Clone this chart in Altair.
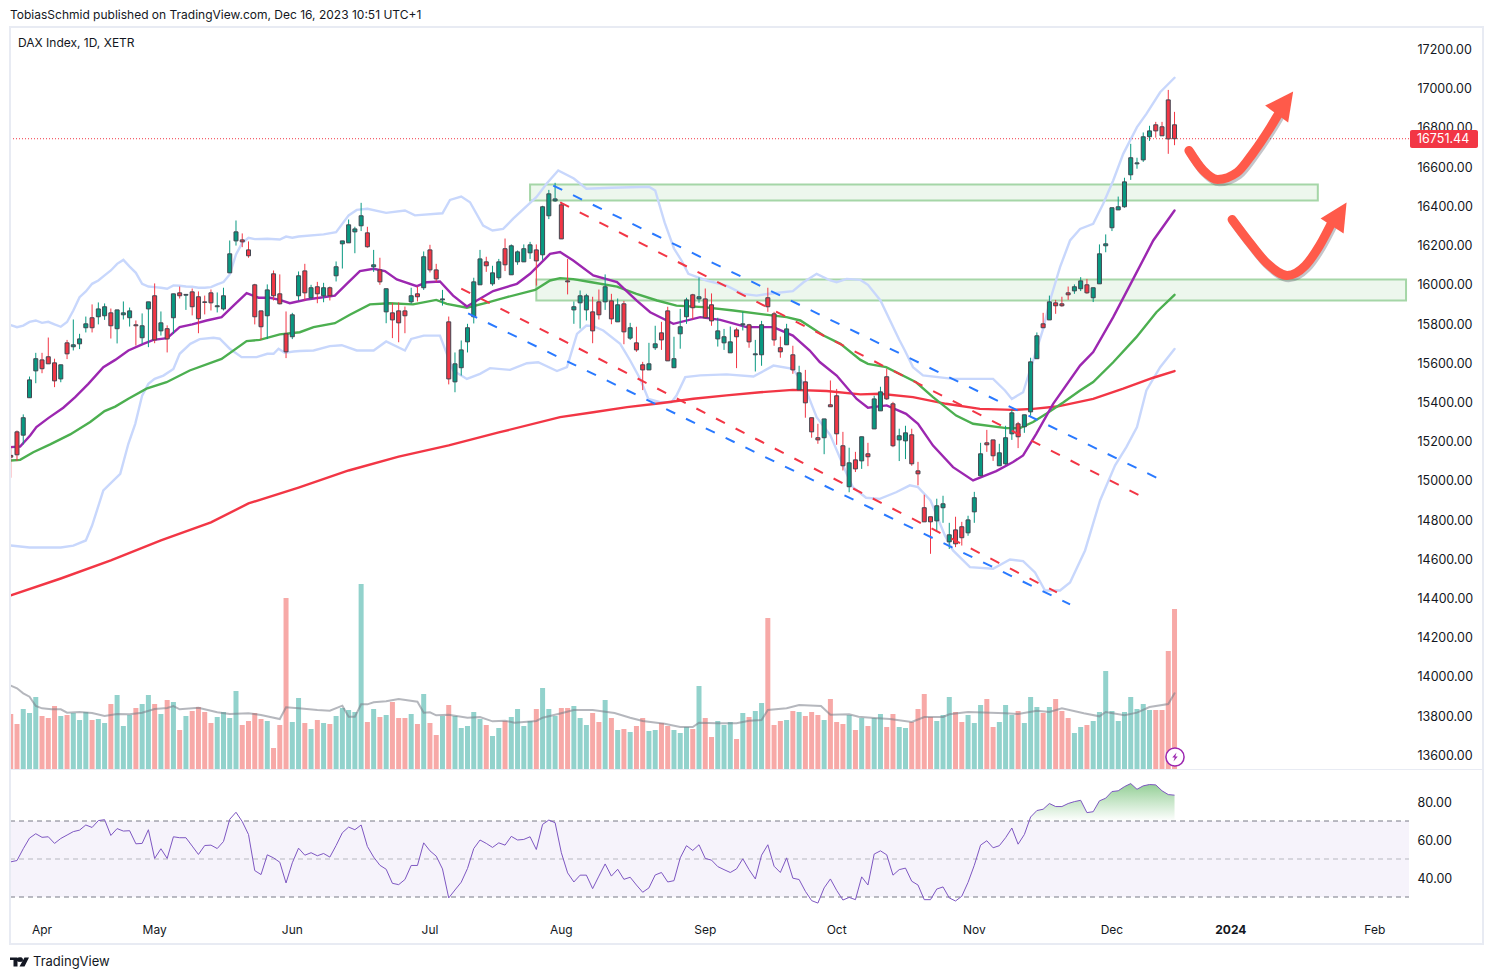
import altair as alt
import pandas as pd

# ---------- candles ----------
opens = [15130,15250,15233,15424,15561,15617,15633,15602,15520,15704,
15684,15699,15781,15832,15837,15842,15857,15776,15847,15832,
15796,15730,15877,15944,15765,15776,15832,15959,15947,15964,
15939,15913,15959,15888,15877,16061,16224,16229,16178,16000,
15867,15842,16056,15954,15750,15735,15944,16071,15934,15990,
15944,15985,16046,16209,16214,16270,16301,16265,16092,16076,
15862,15857,15867,15867,15913,15954,15985,16178,16076,15923,
15811,15505,15577,15709,15837,16000,16117,16005,16036,16184,
16051,16117,16117,16163,16178,16153,16352,16428,16408,16020,
15872,15908,15872,15862,15913,15913,15918,15811,15903,15728,
15704,15592,15566,15679,15755,15867,15577,15750,15837,15949,
15928,15928,15898,15724,15704,15653,15770,15796,15796,15643,
15643,15934,15852,15679,15694,15643,15464,15505,15322,15220,
15220,15388,15434,15179,14970,15107,15102,15138,15265,15357,
15531,15393,15209,15204,15235,15051,14863,14817,14796,14863,
14689,14750,14766,14735,14842,15026,15194,15209,15077,15087,
15240,15291,15276,15352,15623,15801,15821,15908,15903,15959,
15969,15980,16000,15934,16005,16199,16291,16382,16398,16561,
16617,16637,16755,16816,16806,16943,16816]
highs = [15179,15257,15339,15532,15653,15653,15731,15623,15592,15719,
15823,15750,15838,15900,15910,15905,15879,15872,15915,15884,
15818,15854,15913,16007,15864,15793,15954,15991,15951,15981,
15966,15945,15976,15961,15985,16226,16328,16262,16221,16005,
15867,16002,16073,16053,15864,15857,16068,16107,16000,16015,
16010,15991,16119,16224,16333,16296,16418,16296,16178,16138,
15980,15908,15910,15889,15985,15991,16170,16204,16107,15974,
15838,15655,15716,15801,16036,16178,16143,16097,16132,16236,
16206,16175,16206,16219,16206,16403,16484,16520,16423,16132,
15915,15971,15954,15939,15976,16053,15954,15930,15918,15806,
15786,15607,15704,15791,15811,15888,15735,15877,15934,15954,
16037,15981,15956,15832,15775,15787,15781,15862,15801,15719,
15816,15985,15862,15736,15801,15689,15587,15566,15322,15291,
15316,15512,15469,15250,15169,15148,15225,15194,15434,15480,
15572,15403,15266,15281,15266,15097,14929,14817,14909,14924,
14786,14817,14791,14822,14944,15194,15260,15209,15189,15281,
15362,15301,15337,15628,15757,15857,15945,15923,15939,15991,
16002,16039,16030,15985,16206,16257,16393,16450,16546,16719,
16648,16777,16811,16831,16831,16994,16882]
lows = [15016,15101,15186,15424,15498,15549,15597,15478,15503,15621,
15665,15672,15757,15757,15798,15821,15726,15701,15823,15787,
15690,15699,15682,15702,15741,15655,15750,15930,15872,15844,
15753,15849,15869,15859,15869,16061,16200,16192,16138,15798,
15719,15723,15920,15900,15626,15723,15920,15920,15923,15906,
15911,15920,16017,16083,16214,16161,16274,16189,16066,16000,
15804,15728,15707,15753,15903,15915,15974,16063,16015,15894,
15492,15452,15537,15655,15803,16000,16066,15995,16025,16070,
16051,16102,16117,16132,15996,16127,16335,16423,16234,15951,
15801,15777,15818,15702,15823,15872,15799,15811,15697,15719,
15658,15463,15566,15668,15668,15612,15577,15674,15801,15825,
15908,15832,15791,15685,15668,15653,15575,15767,15679,15558,
15587,15862,15689,15628,15694,15546,15464,15322,15220,15189,
15136,15378,15184,15053,14942,15045,15061,15075,15265,15357,
15413,15172,15101,15111,15077,14977,14791,14628,14740,14786,
14653,14662,14670,14720,14786,15026,15148,15102,15077,15082,
15209,15167,15245,15332,15623,15781,15821,15852,15888,15923,
15954,15968,15954,15912,16005,16166,16274,16382,16393,16535,
16592,16627,16734,16750,16760,16668,16712]
closes = [15121,15133,15322,15515,15623,15572,15597,15510,15592,15648,
15694,15724,15801,15781,15877,15888,15791,15872,15857,15867,
15791,15791,15913,15719,15806,15724,15954,15944,15951,15888,
15827,15910,15908,15893,15944,16158,16270,16219,16148,15837,
15786,15974,15944,15903,15658,15847,16046,15959,15985,15954,
15985,15944,16092,16224,16306,16285,16352,16194,16102,16015,
15980,15821,15806,15842,15944,15939,16143,16076,16030,15928,
15520,15597,15668,15781,16015,16132,16097,16061,16117,16102,
16199,16168,16184,16204,16122,16398,16464,16438,16234,16015,
15888,15944,15944,15765,15847,15990,15826,15898,15760,15781,
15668,15566,15597,15699,15719,15612,15623,15786,15923,15883,
15939,15832,15816,15765,15735,15709,15735,15801,15709,15648,
15796,15888,15719,15658,15775,15566,15551,15398,15250,15209,
15316,15378,15240,15077,15092,15061,15225,15123,15418,15454,
15418,15179,15230,15245,15087,15036,14791,14791,14873,14883,
14725,14679,14710,14801,14914,15138,15184,15128,15143,15220,
15347,15225,15337,15607,15740,15781,15913,15893,15893,15949,
15990,16020,15959,15985,16158,16209,16393,16398,16525,16648,
16622,16755,16785,16785,16760,16744,16745]
volumes = [165,135,180,168,216,159,153,189,159,162,168,147,171,147,150,138,195,222,129,162,
183,195,222,195,165,207,201,117,159,174,186,171,138,156,171,153,234,132,144,168,
150,144,63,132,513,141,213,138,120,147,138,135,159,183,177,171,555,141,180,156,
162,201,153,153,165,135,225,138,102,159,192,159,123,129,171,150,132,99,123,144,
156,180,129,144,180,243,180,159,183,183,189,153,132,168,141,207,153,117,120,111,
129,153,114,117,138,129,117,108,126,120,249,153,96,144,132,141,90,168,156,174,
198,453,132,144,147,174,171,159,171,162,147,210,141,135,162,117,153,129,153,165,
126,165,126,123,141,180,225,156,144,162,216,171,141,162,138,192,210,126,141,192,
162,174,138,216,186,168,186,210,174,153,108,126,132,144,171,294,174,144,171,216,
180,195,177,177,177,354,480]
rsi = [48.5,49.2,55.4,61.0,63.3,61.4,61.7,58.2,60.8,62.6,
64.4,65.2,67.9,66.6,70.2,70.7,62.4,66.0,64.7,64.9,
58.0,58.2,65.4,50.3,55.4,50.3,61.7,61.2,61.2,56.8,
52.4,57.1,57.3,55.5,59.2,70.9,74.6,69.7,62.9,43.9,
41.8,52.2,50.6,48.3,37.4,48.0,55.7,52.0,53.3,51.7,
52.9,51.0,57.1,63.8,66.8,65.4,67.9,56.6,51.0,46.7,
44.6,37.2,36.5,39.2,46.6,46.6,58.5,54.3,51.5,44.8,
29.5,33.7,37.8,45.0,55.5,60.0,58.2,56.1,58.5,57.3,
61.9,60.0,60.3,61.7,55.0,68.2,70.5,69.1,53.3,42.7,
37.9,41.5,41.5,34.4,41.0,
47.4,41.0,44.6,39.3,40.4,36.3,32.5,34.8,41.6,42.9,37.9,38.6,50.6,57.0,54.5,57.5,
50.3,49.4,46.0,44.4,42.9,44.8,50.1,44.4,39.5,52.0,57.5,46.2,42.9,50.6,39.9,39.2,
33.0,28.1,26.8,34.8,39.5,33.5,28.4,29.8,28.6,40.6,36.3,52.6,54.3,52.2,41.5,44.4,
45.2,38.3,36.3,28.6,28.6,34.2,35.3,29.5,27.9,30.4,37.7,46.7,57.3,59.6,55.9,57.0,
61.2,66.3,57.8,62.9,72.1,75.5,76.2,79.2,77.6,77.6,79.2,80.2,80.9,74.4,74.9,80.6,
82.0,85.5,85.9,88.1,89.7,86.7,88.5,89.2,89.0,85.9,83.9,83.6]

# ---------- indicator lines (bar position, value) ----------
upper_i = list(range(40)) + [41,43,44,45,46,50,52,54,55.3,57,60,63,64.6,69,70.2,72,73.4,75.5,77,78.7,80.3,84,85.7,87.5,90,92,96,102,103,104.5,106,107.2,108.3,111.2,114.4,117,119.2,121.9,125,126.7,128.8,131,132,133.6,135.8,137,139,142,142.9,144.2,145.8,150.6,157,158.9,160,161.8,162.9,164,165,166.1,167.7,169.3,170.9,173,174.6,176.2,177.8,180,181.5,183.7,186]
upper_v = [15794,15784,15792,15811,15818,15806,15811,15798,15786,15810,15869,15937,15966,16005,16022,16048,16073,16107,16127,16093,16061,16005,15991,15988,15985,15980,15997,15995,15991,15990,15985,15985,15988,16002,16014,16053,16155,16214,16240,16233,
16235,16231,16246,16240,16246,16257,16268,16354,16382,16388,16367,16379,16354,16365,16433,16450,16421,16302,16277,16285,16337,16447,16518,16583,16542,16490,16495,16500,16481,16318,16185,16124,16056,16022,15996,15954,15945,15957,15968,16013,16056,16022,16013,16030,16025,16000,15920,15720,15665,15580,15538,15520,15520,15461,15418,15452,15563,15673,15775,15920,16090,16226,16285,16311,16413,16532,16668,16804,16872,16982,17056]
lower_i = [0,3,8,10,12,13,14.8,17.5,18.8,19.9,21,22,23,24.4,26,27,28.7,30.2,32.4,33.4,35,36.9,39.3,41,42,42.8,43.8,45.2,46.2,48.4,51,52.9,55.3,58,60,63,64,66,68.6,70.7,72.9,75,76.6,79.8,82.5,84.3,87.3,88.9,90.5,92,93.1,94.7,97.4,99,100.6,101.9,103.8,105.6,106.4,107.8,110.2,114.4,118.7,121.9,125,126.7,128.8,131,133.6,134.6,136.7,138.9,141.5,143.7,145,147,149.3,150.6,153.3,157,159.7,161.8,163.7,165.3,167.7,169.3,171.7,174.1,176.5,178.3,180,181.5,183.7,186]
lower_v = [14670,14660,14660,14670,14696,14772,14951,15036,15189,15291,15435,15495,15520,15537,15571,15648,15699,15723,15730,15725,15674,15631,15631,15648,15648,15674,15653,15660,15662,15665,15687,15692,15665,15665,15711,15665,15724,15741,15741,15563,15520,15546,15575,15566,15600,15605,15560,15580,15750,15792,15789,15767,15699,15614,15520,15418,15401,15401,15435,15529,15538,15543,15532,15588,15571,15495,15325,15232,15036,14968,14914,14908,14942,14977,14968,14900,14722,14645,14560,14552,14599,14591,14533,14441,14441,14482,14645,14900,15079,15172,15274,15461,15580,15673]
purple_i = [0,1.5,3.1,4.1,6,8.4,10.3,12.4,14.8,16.7,18.8,21.2,22.8,25,27,29,31.3,33.7,35.6,37.7,39.6,41.4,43,44.6,47.3,51.8,53.7,55.8,58,59.8,61.7,64.9,66.5,68.6,70.7,72.9,74.5,77.1,80.9,83,86.2,87.8,89.9,93.1,96.9,100,102.2,105.9,110.2,113.4,117.6,121.9,125,127.7,129.3,132,135.2,137,140,143.1,145,147.4,150.6,153.8,157.5,160.2,161.8,163.9,166.6,170.9,173,176.2,179.4,182.6,186]
purple_v = [15172,15175,15231,15274,15320,15373,15427,15495,15580,15617,15665,15699,15719,15728,15784,15798,15818,15835,15894,15957,15934,15934,15923,15906,15925,15945,16005,16070,16082,16070,16027,15993,16013,16017,15945,15889,15920,15968,16005,16056,16158,16167,16124,16048,16014,15920,15860,15801,15835,15821,15784,15784,15741,15665,15606,15537,15418,15373,15385,15342,15291,15180,15070,15002,15050,15096,15130,15240,15393,15588,15657,15835,16030,16226,16379]
green_i = [0,1.5,3.6,6.3,9.5,12.7,15,16.7,18.8,21.7,24.9,28.6,33.7,37.7,39.8,43,46.2,48.4,51.8,54.2,57.4,60.6,64.3,68,69.7,72.9,76,79.3,83.8,86.2,87.8,89.9,92.6,96.9,100,103.3,106.4,110.7,115.5,120.3,124,126.2,129.9,132.6,135.8,137,139.9,144.7,147.4,151.1,153.8,159.1,161.3,163.4,165.5,168.2,170.9,173,176.2,179.9,183.1,186]
green_v = [15104,15107,15146,15186,15237,15300,15356,15379,15419,15470,15503,15563,15622,15713,15719,15747,15758,15784,15804,15847,15900,15906,15900,15923,15903,15883,15908,15937,15974,16022,16034,16029,16014,15991,15954,15920,15894,15886,15869,15849,15835,15818,15741,15699,15617,15597,15580,15503,15427,15333,15291,15269,15269,15300,15342,15400,15461,15504,15605,15733,15860,15949]
red_i = [0,8,16,24,32,38,46,54,62,70,78,87.8,93.1,98.5,103.8,109.1,114.4,119.8,125,130.4,135.8,138.9,144.2,149.5,154.9,160.2,163.4,167.2,173,177.8,182.6,186]
red_v = [14416,14502,14594,14696,14788,14885,14966,15053,15124,15181,15247,15325,15350,15376,15396,15419,15436,15452,15464,15458,15441,15444,15427,15393,15367,15362,15367,15379,15418,15470,15526,15560]
volma_i = [0,1,2,3,4,5,6.5,8,9,11,13,15,17,19,21,23,25,26,27,30,33,35,38,40,43,44,46,49,51,53,54,55,56,57,58,60,62,65,66,67,68,70,73,75,77,79,80.5,84,85,87.5,90,93,96.5,99,101,104.5,107,109,110,113,116,118,120,121,124,126,129.5,131,134,135.5,138,140.5,144,146,149,150,153,159,161,164,166,168,171.5,174,175,178,180,182,185,186]
volma_v = [250,242,227,217,189,182,179,179,169,171,168,159,165,164,169,180,183,189,179,184,170,165,167,162,150,185,182,177,175,190,157,157,194,194,200,203,210,202,169,170,161,163,154,156,143,145,139,144,154,165,177,177,168,154,144,136,126,126,139,137,137,145,147,177,182,192,189,163,164,157,153,150,141,156,156,164,171,167,165,175,171,182,167,158,171,161,169,186,195,227]
ob_i = [162.6,163,164,165,166,167,168,169,170,171,172,173,174,175,176,177,178,179,180,181,182,183,184,185,186]
ob_v = [70,72.1,75.5,76.2,79.2,77.6,77.6,79.2,80.2,80.9,74.4,74.9,80.6,82.0,85.5,85.9,88.1,89.7,86.7,88.5,89.2,89.0,85.9,83.9,83.6]

# ---------- drawings ----------
trend_lines = [("blue",[86.7,183.4],[16506,15012]),("red",[87.8,181.4],[16420,14910]),
               ("blue",[73.1,169.3],[15854,14370]),("red",[72,167.2],[15981,14431])]
zones = [(83,208.9,16430,16512),(84,223,15920,16027)]
arrow1_i = [188.3,190.6,192.9,196,198.5,201.3,203.2]
arrow1_v = [16685,16583,16537,16573,16670,16802,16904]
arrow2_i = [195.2,198.1,200.8,204,206.9,209.2,211.3]
arrow2_v = [16333,16211,16109,16048,16098,16201,16328]
heads = [(203.2,16909,"M1.1,-1.5 L-1.7,-0.1 L0.6,1.6 Z"),(211.9,16338,"M1,-1.6 L-1.6,0 L0.7,1.5 Z")]
last_price_text = "16751.44"
tick_idx = [5,23,45,67,88,111,132,154,176,195,218]
tick_lab = ["Apr","May","Jun","Jul","Aug","Sep","Oct","Nov","Dec","2024","Feb"]
price_ticks = list(range(13600,17400,200))
header = "TobiasSchmid published on TradingView.com, Dec 16, 2023 10:51 UTC+1"
symbol = "DAX Index, 1D, XETR"

FONT = "Inter"
INK = "#131722"
UP, DOWN = "#089981", "#f23645"
W, H = 1477, 963
px = lambda v: v - 8
xs = alt.Scale(domain=[-0.438, 235.62], nice=False, zero=False, padding=0)
X = alt.X("i:Q", scale=xs, axis=None)
price_s = alt.Scale(domain=[13000, 17450], range=[865, -7.5], nice=False, zero=False)
rsi_s = alt.Scale(domain=[20, 100], range=[908, 756], nice=False, zero=False)
vol_s = alt.Scale(domain=[0, 600], range=[761, 561], nice=False, zero=False)
one = pd.DataFrame({"a": [0]})

def PY(f): return alt.Y(f, scale=price_s, axis=None)
def RY(f): return alt.Y(f, scale=rsi_s, axis=None)

def line(i, v, color, width=2.4, dash=None, scale=price_s, opacity=1.0, interp="linear"):
    kw = dict(color=color, strokeWidth=width, opacity=opacity, interpolate=interp, strokeCap="round")
    if dash: kw["strokeDash"] = dash; kw["strokeCap"] = "butt"
    return alt.Chart(pd.DataFrame({"i": i, "v": v})).mark_line(**kw).encode(
        x=X, y=alt.Y("v:Q", scale=scale, axis=None))

def box(x0, x1, y0, y1, **kw):
    return alt.Chart(one).mark_rect(**kw).encode(
        x=alt.value(px(x0)), x2=alt.value(px(x1)), y=alt.value(px(y0)), y2=alt.value(px(y1)))

def label(x, y, text, size=12, color=INK, align="left", weight="normal"):
    return alt.Chart(pd.DataFrame({"t": [text]})).mark_text(
        font=FONT, fontSize=size, color=color, align=align, baseline="middle", fontWeight=weight
    ).encode(x=alt.value(px(x)), y=alt.value(px(y)), text="t:N")

df = pd.DataFrame({"i": range(len(opens)), "o": opens, "h": highs, "l": lows, "c": closes, "vol": volumes})
df["up"] = df.c >= df.o
df["vol0"] = 0
color_c = alt.Color("up:N", scale=alt.Scale(domain=[True, False], range=[UP, DOWN]), legend=None)
vcolor_c = alt.Color("up:N", scale=alt.Scale(domain=[True, False], range=["#92d2cc", "#f7a9a7"]), legend=None)
df["top"] = df[["o", "c"]].max(axis=1)
df["bot"] = df[["o", "c"]].min(axis=1)

layers = []
price_axis = alt.Axis(values=price_ticks, format=".2f", orient="right", offset=-75, domain=False, ticks=False,
                      grid=False, title=None, labelPadding=7, labelFont=FONT, labelFontSize=12.5, labelColor=INK,
                      labelOverlap=False, labelBound=False)
rsi_axis = alt.Axis(values=[40, 60, 80], format=".2f", orient="right", offset=-75, domain=False, ticks=False,
                    grid=False, title=None, labelPadding=7, labelFont=FONT, labelFontSize=12.5, labelColor=INK,
                    labelOverlap=False, labelBound=False)

# RSI band and levels
layers.append(alt.Chart(pd.DataFrame({"a": [30], "b": [70]})).mark_rect(color="#f6f3fb").encode(
    x=alt.value(px(10)), x2=alt.value(px(1409)), y=RY("a:Q"), y2="b:Q"))
for lv, op in [(70, 1.0), (50, 0.5), (30, 1.0)]:
    layers.append(alt.Chart(pd.DataFrame({"v": [lv]})).mark_rule(
        color="#787b86", strokeWidth=1, strokeDash=[5, 4], opacity=op).encode(
        x=alt.value(px(10)), x2=alt.value(px(1409)), y=RY("v:Q")))
ob = pd.DataFrame({"i": ob_i, "v": ob_v, "b": 70})
layers.append(alt.Chart(ob).mark_area(color=alt.Gradient(
    gradient="linear", x1=0, x2=0, y1=0, y2=1,
    stops=[alt.GradientStop(color="rgba(76,175,80,0.6)", offset=0), alt.GradientStop(color="rgba(76,175,80,0)", offset=1)]
)).encode(x=X, y=RY("v:Q"), y2="b:Q"))
layers.append(alt.Chart(pd.DataFrame({"i": list(range(len(rsi))), "v": rsi})).mark_line(
    color="#7e57c2", strokeWidth=1).encode(x=X, y=alt.Y("v:Q", scale=rsi_s, axis=rsi_axis)))

# volume
layers.append(alt.Chart(df).mark_bar(size=5, orient="vertical").encode(
    x=X, y=alt.Y("vol:Q", scale=vol_s, axis=None, stack=None), y2="vol0:Q", color=vcolor_c))
layers.append(line(volma_i, volma_v, "#787b86", 2, scale=vol_s, opacity=0.55))

# zones
for a, b, lo, hi in zones:
    z = pd.DataFrame({"i": [a], "i2": [b], "v": [lo], "v2": [hi]})
    layers.append(alt.Chart(z).mark_rect(fill="#4caf50", fillOpacity=0.1, stroke="#a5d6a7", strokeWidth=2).encode(
        x=X, x2="i2:Q", y=PY("v:Q"), y2="v2:Q"))

# indicator lines
layers.append(line(upper_i, upper_v, "#c8d7fc"))
layers.append(line(lower_i, lower_v, "#c8d7fc"))
layers.append(line(red_i, red_v, "#f23645"))
layers.append(line(green_i, green_v, "#4caf50"))
layers.append(line(purple_i, purple_v, "#9c27b0"))

# last-price rule
layers.append(alt.Chart(pd.DataFrame({"v": [closes[-1]]})).mark_rule(
    color=DOWN, strokeWidth=1, strokeDash=[1, 2]).encode(
    x=alt.value(px(10)), x2=alt.value(px(1410)), y=alt.Y("v:Q", scale=price_s, axis=price_axis)))

# candles
layers.append(alt.Chart(df).mark_rule(strokeWidth=1).encode(x=X, y=PY("h:Q"), y2="l:Q", color=color_c))
layers.append(alt.Chart(df).mark_bar(size=4, orient="vertical", stroke="#434651", strokeWidth=1).encode(
    x=X, y=alt.Y("top:Q", scale=price_s, axis=None, stack=None), y2="bot:Q", color=color_c))

# trend channel
for col, i, v in trend_lines:
    layers.append(line(i, v, "#2979ff" if col == "blue" else "#f23645", 2, dash=[10, 12]))

# arrows with soft shadow
for ai, av in [(arrow1_i, arrow1_v), (arrow2_i, arrow2_v)]:
    layers.append(line([a + 0.25 for a in ai], [b - 12 for b in av], "#555a66", 9, opacity=0.35, interp="monotone"))
    layers.append(line(ai, av, "#ff5a4a", 9, interp="monotone"))
for hi, hv, shape in heads:
    layers.append(alt.Chart(pd.DataFrame({"i": [hi], "v": [hv]})).mark_point(
        shape=shape, size=400, filled=True, color="#ff5a4a", opacity=1).encode(x=X, y=PY("v:Q")))

# left mask and frame
layers.append(box(0, 10, 28, 769, fill="white"))
layers.append(box(10, 1483, 27, 944, fill="transparent", stroke="#e8ebf3", strokeWidth=2))
layers.append(box(10, 1483, 769, 770, fill="#e8ebf3"))

# price tag
layers.append(box(1410, 1478, 130, 148, fill=DOWN, cornerRadius=2))
layers.append(alt.Chart(pd.DataFrame({"v": [closes[-1]], "t": [last_price_text]})).mark_text(
    font=FONT, fontSize=12.5, color="white", align="left", baseline="middle").encode(
    x=alt.value(px(1417)), y=PY("v:Q"), text="t:N"))

# bolt badge
layers.append(alt.Chart(one).mark_point(shape="circle", size=330, filled=True, fill="white", stroke="#9c27b0",
                                        strokeWidth=1.5, opacity=1).encode(x=alt.value(px(1175)), y=alt.value(px(757))))
layers.append(alt.Chart(one).mark_point(shape="M0.3,-0.9 L-0.55,0.1 L-0.05,0.1 L-0.3,0.9 L0.55,-0.1 L0.05,-0.1 Z",
                                        size=100, filled=True, color="#9c27b0", opacity=1).encode(
    x=alt.value(px(1175)), y=alt.value(px(757))))

# time labels, placed through the x scale
ticks = pd.DataFrame({"i": tick_idx, "t": tick_lab})
for frame, weight in [(ticks[ticks.t != "2024"], "normal"), (ticks[ticks.t == "2024"], "bold")]:
    layers.append(alt.Chart(frame).mark_text(
        font=FONT, fontSize=12, color=INK, align="center", baseline="middle", fontWeight=weight).encode(
        x=X, y=alt.value(px(930)), text="t:N"))

# texts
layers.append(label(10, 15, header))
layers.append(label(18, 43, symbol))
layers.append(label(33, 962, "TradingView", size=13))
layers.append(alt.Chart(one).mark_point(
    shape="M-1.9,-0.9 L-0.4,-0.9 L-0.4,0.9 L-1.2,0.9 L-1.2,-0.4 L-1.9,-0.4 Z M0.1,-0.9 A0.45,0.45 0 1 1 0.1,-0.05 A0.45,0.45 0 1 1 0.1,-0.9 Z M1.0,-0.9 L1.9,-0.9 L1.0,0.9 L0.0,0.9 Z",
    size=100, filled=True, color=INK, opacity=1).encode(x=alt.value(px(19.5)), y=alt.value(px(962))))

chart = alt.layer(*layers).resolve_scale(y="independent", color="independent").properties(
    width=W, height=H, padding=0, autosize=alt.AutoSizeParams(type="none")
).configure_view(stroke=None)

chart.save("out.html", embed_options={"renderer": "svg", "actions": False})
